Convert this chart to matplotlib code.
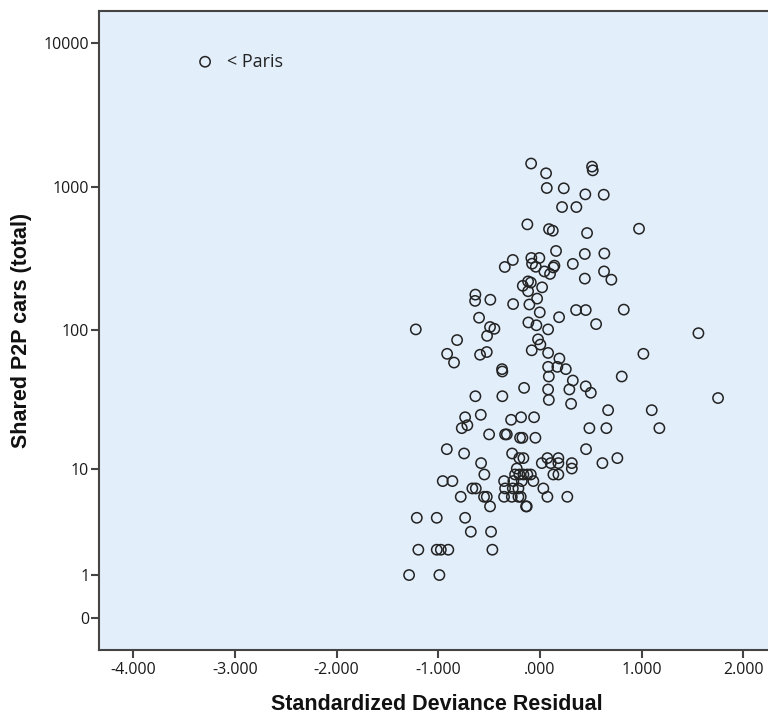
import numpy as np
import matplotlib
matplotlib.use("Agg")
import matplotlib.pyplot as plt
from matplotlib.ticker import FixedLocator, FuncFormatter

# standardized deviance residual (x) vs. shared P2P cars (y)
residual = [
    -0.088, 0.059, 0.511, 0.518, 0.066, 0.233, 0.445, 0.626, 0.216, 0.357,
    -0.125, 0.088, 0.125, 0.462, 0.973, 0.157, 0.440, 0.632, -0.268, -0.347,
    -0.086, -0.007, -0.079, -0.042, 0.141, 0.131, 0.042, 0.098, 0.322, 0.629,
    0.701, 0.440, -0.170, -0.118, -0.091, 0.020, -0.118, -0.029, -0.105, -0.265,
    -0.489, -0.636, -0.639, -0.003, 0.187, 0.354, 0.449, 0.823, 0.551, -0.600,
    -0.115, -0.036, 0.079, -1.222, -0.492, -0.449, -0.521, -0.816, -0.020, 0.003,
    -0.082, 0.079, -0.914, -0.524, -0.590, 0.190, -0.846, -0.374, -0.371, 0.079,
    0.170, 0.253, 0.086, 0.322, 0.803, -0.157, 0.079, 0.288, 0.449, 0.499,
    -0.636, -0.371, 0.086, 0.305, 0.669, -0.737, -0.715, -0.770, -0.583, -0.285,
    -0.187, -0.059, 0.485, 0.652, -0.501, -0.344, -0.327, -0.197, -0.174, -0.046,
    -0.917, -0.747, 0.452, 0.760, 0.613, -0.275, -0.204, -0.164, 0.017, 0.072,
    0.105, 0.180, 0.180, 0.312, 0.312, -0.580, -0.548, -0.229, -0.246, -0.204,
    -0.164, -0.125, -0.091, 0.131, 0.180, -0.957, -0.862, -0.354, -0.263, -0.180,
    -0.066, -0.666, -0.632, -0.344, -0.268, -0.213, 0.032, -0.780, -0.551, -0.524,
    -0.354, -0.278, -0.213, -0.190, 0.072, 0.268, -0.492, -0.138, -0.131, -1.212,
    -1.016, -0.737, -0.681, -0.482, -1.197, -1.016, -0.976, -0.902, -0.469, -1.288,
    -0.990, 1.557, 1.016, 1.750, 1.098, 1.173,
]
cars = [
    1450, 1240, 1380, 1300, 980, 975, 885, 880, 722, 722,
    547, 507, 494, 476, 510, 357, 340, 343, 309, 276,
    319, 319, 291, 277, 282, 274, 257, 247, 290, 257,
    225, 229, 204, 219, 215, 199, 187, 166, 151, 152,
    163, 177, 160, 133, 123, 138, 138, 139, 110, 122,
    113, 108, 101, 101, 105, 102, 91, 85, 86, 79,
    72, 69, 68, 70, 67, 63, 59, 53, 51, 55,
    55, 53, 47, 44, 47, 39, 38, 38, 40, 36,
    34, 34, 32, 30, 27, 24, 21, 20, 25, 23,
    24, 24, 20, 20, 18, 18, 18, 17, 17, 17,
    14, 13, 14, 12, 11, 13, 12, 12, 11, 12,
    11, 12, 11, 11, 10, 11, 9, 10, 9, 9,
    9, 9, 9, 9, 9, 8, 8, 8, 8, 8,
    8, 7, 7, 7, 7, 7, 7, 6, 6, 6,
    6, 6, 6, 6, 6, 6, 5, 5, 5, 4,
    4, 4, 3, 3, 2, 2, 2, 2, 2, 1,
    1, 95, 68, 33, 27, 20,
]

# labelled outlier
outlier_name = "Paris"
outlier_residual = -3.294
outlier_cars = 7400

y_ticks = [0, 1, 10, 100, 1000, 10000]
x_ticks = [-4, -3, -2, -1, 0, 1, 2]


def fwd(v):
    return np.log10(np.asarray(v, dtype=float) + 1)


def inv(v):
    return 10 ** np.asarray(v, dtype=float) - 1


def x_fmt(v, pos):
    s = f"{v:.3f}"
    return ".000" if s in ("0.000", "-0.000") else s


fig = plt.figure(figsize=(7.68, 7.15), dpi=100)
ax = fig.add_axes([99 / 768, 65 / 715, 676 / 768, 639 / 715])
ax.set_facecolor("#e2eefa")

edge = "#232323"
ax.scatter(residual, cars, s=55, facecolors="none", edgecolors=edge,
           linewidths=1.1, zorder=3)
ax.scatter([outlier_residual], [outlier_cars], s=55, facecolors="none",
           edgecolors=edge, linewidths=1.1, zorder=3)
ax.annotate("< " + outlier_name, (outlier_residual, outlier_cars),
            xytext=(16, 0), textcoords="offset points", va="center",
            ha="left", fontsize=13, family="Open Sans", color="#222222")

ax.set_yscale("function", functions=(fwd, inv))
ax.set_ylim(inv(-0.22), inv(4.222))
ax.set_xlim(-4.337, 2.31)

ax.yaxis.set_major_locator(FixedLocator(y_ticks))
ax.yaxis.set_major_formatter(FuncFormatter(lambda v, p: f"{int(round(v))}"))
ax.yaxis.set_minor_locator(FixedLocator([]))
ax.xaxis.set_major_locator(FixedLocator(x_ticks))
ax.xaxis.set_major_formatter(FuncFormatter(x_fmt))

for side in ("left", "bottom", "top", "right"):
    ax.spines[side].set_color("#444444")
    ax.spines[side].set_linewidth(1.5)

ax.tick_params(axis="both", direction="out", length=6, width=1.5,
               color="#444444", labelsize=11.5, labelcolor="#1a1a1a")
ax.tick_params(axis="x", pad=3)
ax.tick_params(axis="y", pad=1)
for lab in ax.get_xticklabels() + ax.get_yticklabels():
    lab.set_family("Open Sans")

ax.set_xlabel("Standardized Deviance Residual", fontsize=15.5,
              fontweight="bold", family="Liberation Sans", color="#111111",
              va="center", ha="center")
ax.set_ylabel("Shared P2P cars (total)", fontsize=15.5,
              fontweight="bold", family="Liberation Sans", color="#111111",
              va="center", ha="center")
ax.xaxis.set_label_coords(0.5, (650 - 704) / 639)
ax.yaxis.set_label_coords((21.5 - 99) / 676, 0.5)

fig.savefig("out.png", dpi=100)
